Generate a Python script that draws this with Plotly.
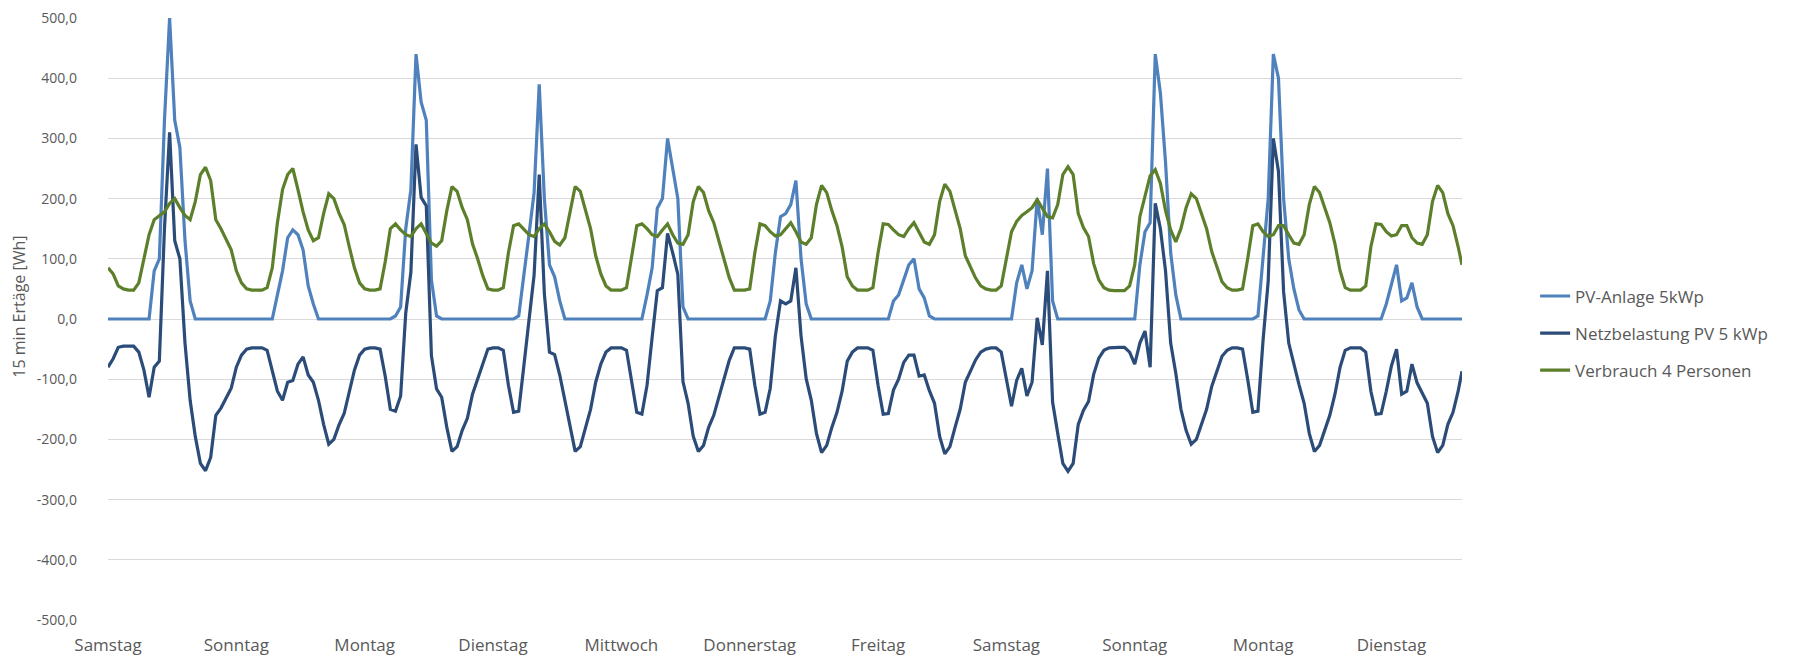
import plotly.graph_objects as go

# ---- data (hourly readings, Wh per 15 min) ----
DAY_LABELS = ["Samstag", "Sonntag", "Montag", "Dienstag", "Mittwoch", "Donnerstag",
              "Freitag", "Samstag", "Sonntag", "Montag", "Dienstag"]

PV_ANLAGE = [
    # Samstag
    0, 0, 0, 0, 0, 0, 0, 0, 0, 80, 100, 330, 500, 330, 285, 130, 30, 0, 0, 0, 0, 0, 0, 0,
    # Sonntag
    0, 0, 0, 0, 0, 0, 0, 0, 0, 40, 80, 135, 148, 140, 115, 55, 25, 0, 0, 0, 0, 0, 0, 0,
    # Montag
    0, 0, 0, 0, 0, 0, 0, 0, 5, 20, 150, 215, 440, 360, 330, 65, 5, 0, 0, 0, 0, 0, 0, 0,
    # Dienstag
    0, 0, 0, 0, 0, 0, 0, 0, 5, 70, 140, 210, 390, 200, 90, 70, 30, 0, 0, 0, 0, 0, 0, 0,
    # Mittwoch
    0, 0, 0, 0, 0, 0, 0, 0, 0, 40, 85, 184, 200, 300, 250, 200, 20, 0, 0, 0, 0, 0, 0, 0,
    # Donnerstag
    0, 0, 0, 0, 0, 0, 0, 0, 0, 30, 110, 170, 175, 190, 230, 100, 25, 0, 0, 0, 0, 0, 0, 0,
    # Freitag
    0, 0, 0, 0, 0, 0, 0, 0, 0, 30, 40, 65, 90, 100, 50, 35, 5, 0, 0, 0, 0, 0, 0, 0,
    # Samstag
    0, 0, 0, 0, 0, 0, 0, 0, 0, 60, 90, 50, 80, 200, 140, 250, 30, 0, 0, 0, 0, 0, 0, 0,
    # Sonntag
    0, 0, 0, 0, 0, 0, 0, 0, 0, 90, 145, 160, 440, 375, 260, 110, 40, 0, 0, 0, 0, 0, 0, 0,
    # Montag
    0, 0, 0, 0, 0, 0, 0, 0, 5, 110, 200, 440, 400, 200, 100, 50, 15, 0, 0, 0, 0, 0, 0, 0,
    # Dienstag (+ last value at 23:45)
    0, 0, 0, 0, 0, 0, 0, 0, 0, 25, 60, 90, 30, 35, 60, 20, 0, 0, 0, 0, 0, 0, 0, 0, 0,
]

NETZBELASTUNG = [
    -80, -66, -47, -45, -45, -45, -55, -85, -130, -80, -70, 150, 310, 130, 100, -40, -135, -195, -240, -252, -230, -160, -148, -132,
    -115, -80, -60, -50, -48, -48, -48, -52, -85, -120, -135, -105, -102, -75, -63, -93, -105, -135, -175, -208, -200, -176, -157, -120,
    -85, -60, -50, -48, -48, -50, -95, -150, -153, -128, 10, 78, 290, 202, 188, -61, -116, -130, -180, -220, -212, -185, -165, -125,
    -100, -72, -50, -48, -48, -52, -110, -155, -153, -78, 0, 73, 240, 42, -55, -59, -93, -135, -180, -220, -212, -182, -150, -105,
    -75, -55, -48, -48, -48, -52, -100, -155, -158, -110, -30, 47, 52, 142, 110, 74, -104, -140, -195, -220, -210, -180, -160, -128,
    -96, -69, -48, -48, -48, -50, -110, -158, -155, -115, -28, 30, 25, 30, 85, -28, -99, -135, -190, -222, -210, -180, -155, -120,
    -70, -55, -48, -48, -48, -52, -110, -158, -157, -118, -100, -72, -60, -60, -95, -93, -119, -140, -195, -224, -212, -180, -150, -105,
    -85, -68, -55, -50, -48, -48, -55, -100, -145, -102, -82, -128, -105, 2, -43, 80, -138, -190, -240, -253, -240, -175, -152, -137,
    -92, -65, -52, -48, -47, -47, -47, -55, -75, -40, -20, -80, 192, 150, 80, -40, -90, -150, -185, -208, -200, -175, -150, -112,
    -85, -62, -52, -48, -48, -50, -100, -155, -153, -35, 63, 300, 245, 45, -40, -76, -109, -140, -190, -220, -210, -185, -160, -125,
    -80, -52, -48, -48, -48, -55, -120, -158, -157, -120, -78, -50, -125, -120, -75, -106, -124, -140, -195, -222, -210, -175, -155, -120, -87,
]

VERBRAUCH = [
    85, 75, 55, 50, 48, 48, 60, 100, 140, 165, 172, 178, 192, 200, 185, 172, 165, 195, 240, 252, 230, 165, 150, 132,
    115, 80, 60, 50, 48, 48, 48, 52, 85, 160, 215, 240, 250, 215, 178, 148, 130, 135, 175, 208, 200, 176, 157, 120,
    85, 60, 50, 48, 48, 50, 95, 150, 158, 148, 140, 137, 150, 158, 142, 126, 121, 130, 180, 220, 212, 185, 165, 125,
    100, 72, 50, 48, 48, 52, 110, 155, 158, 148, 140, 137, 150, 158, 145, 129, 123, 135, 180, 220, 212, 182, 150, 105,
    75, 55, 48, 48, 48, 52, 100, 155, 158, 150, 140, 137, 148, 158, 140, 126, 124, 140, 195, 220, 210, 180, 160, 128,
    96, 69, 48, 48, 48, 50, 110, 158, 155, 145, 138, 140, 150, 160, 145, 128, 124, 135, 190, 222, 210, 180, 155, 120,
    70, 55, 48, 48, 48, 52, 110, 158, 157, 148, 140, 137, 150, 160, 145, 128, 124, 140, 195, 224, 212, 180, 150, 105,
    85, 68, 55, 50, 48, 48, 55, 100, 145, 162, 172, 178, 185, 198, 183, 170, 168, 190, 240, 253, 240, 175, 152, 137,
    92, 65, 52, 48, 47, 47, 47, 55, 90, 170, 205, 238, 248, 225, 180, 148, 128, 150, 185, 208, 200, 175, 150, 112,
    85, 62, 52, 48, 48, 50, 100, 155, 158, 145, 137, 140, 155, 155, 140, 126, 124, 140, 190, 220, 210, 185, 160, 125,
    80, 52, 48, 48, 48, 55, 120, 158, 157, 145, 138, 140, 155, 155, 135, 126, 124, 140, 195, 222, 210, 175, 155, 120, 90,
]

# time axis in hours since start (hourly readings, final reading at 23:45 of the last day)
HOURS = [d * 24 + h for d in range(len(DAY_LABELS)) for h in range(24)] + [len(DAY_LABELS) * 24 - 0.25]
# category labels every 100 quarter-hour slots (= 25 h)
TICK_HOURS = [25 * k for k in range(len(DAY_LABELS))]

Y_TICKS = [-500, -400, -300, -200, -100, 0, 100, 200, 300, 400, 500]
Y_TICKTEXT = [f"{v},0" for v in Y_TICKS]

FONT = "Open Sans, Liberation Sans, sans-serif"
GREY = "#595959"

fig = go.Figure()
fig.add_trace(go.Scatter(x=HOURS, y=PV_ANLAGE, mode="lines", name="PV-Anlage 5kWp",
                         legendgroup="a", line=dict(color="#4f81bd", width=3.2)))
fig.add_trace(go.Scatter(x=HOURS, y=NETZBELASTUNG, mode="lines", name="Netzbelastung PV 5 kWp",
                         legendgroup="b", line=dict(color="#2b4c79", width=3.2)))
fig.add_trace(go.Scatter(x=HOURS, y=VERBRAUCH, mode="lines", name="Verbrauch 4 Personen",
                         legendgroup="c", line=dict(color="#5c7f2b", width=3.2)))

# the page body has an 8px margin, so the figure is sized 8px smaller than the window
fig.update_layout(
    width=1785, height=650,
    margin=dict(l=100, r=331, t=10, b=38, autoexpand=False),
    plot_bgcolor="white", paper_bgcolor="white",
    font=dict(family=FONT, color=GREY),
    showlegend=True,
    legend=dict(x=1.054, y=0.476, xanchor="left", yanchor="middle",
                font=dict(family=FONT, size=17, color=GREY),
                tracegroupgap=12, bgcolor="rgba(0,0,0,0)"),
    annotations=[dict(text="15 min Ertäge [Wh]", xref="paper", yref="paper",
                      x=-0.0655, y=0.521, xanchor="center", yanchor="middle",
                      textangle=-90, showarrow=False,
                      font=dict(family=FONT, size=16, color=GREY))],
)
fig.update_xaxes(range=[0, HOURS[-1]], tickmode="array", tickvals=TICK_HOURS, ticktext=DAY_LABELS,
                 showgrid=False, zeroline=False, showline=False, ticks="",
                 tickfont=dict(family=FONT, size=17, color=GREY), ticklabelstandoff=13)
fig.update_yaxes(range=[-500, 500], tickmode="array", tickvals=Y_TICKS, ticktext=Y_TICKTEXT,
                 showgrid=True, gridcolor="#d9d9d9", gridwidth=1, zeroline=False, showline=False,
                 ticks="", tickfont=dict(family=FONT, size=14, color=GREY), ticklabelstandoff=30,
                 ticklabeloverflow="allow")

fig.write_html("out.html")
